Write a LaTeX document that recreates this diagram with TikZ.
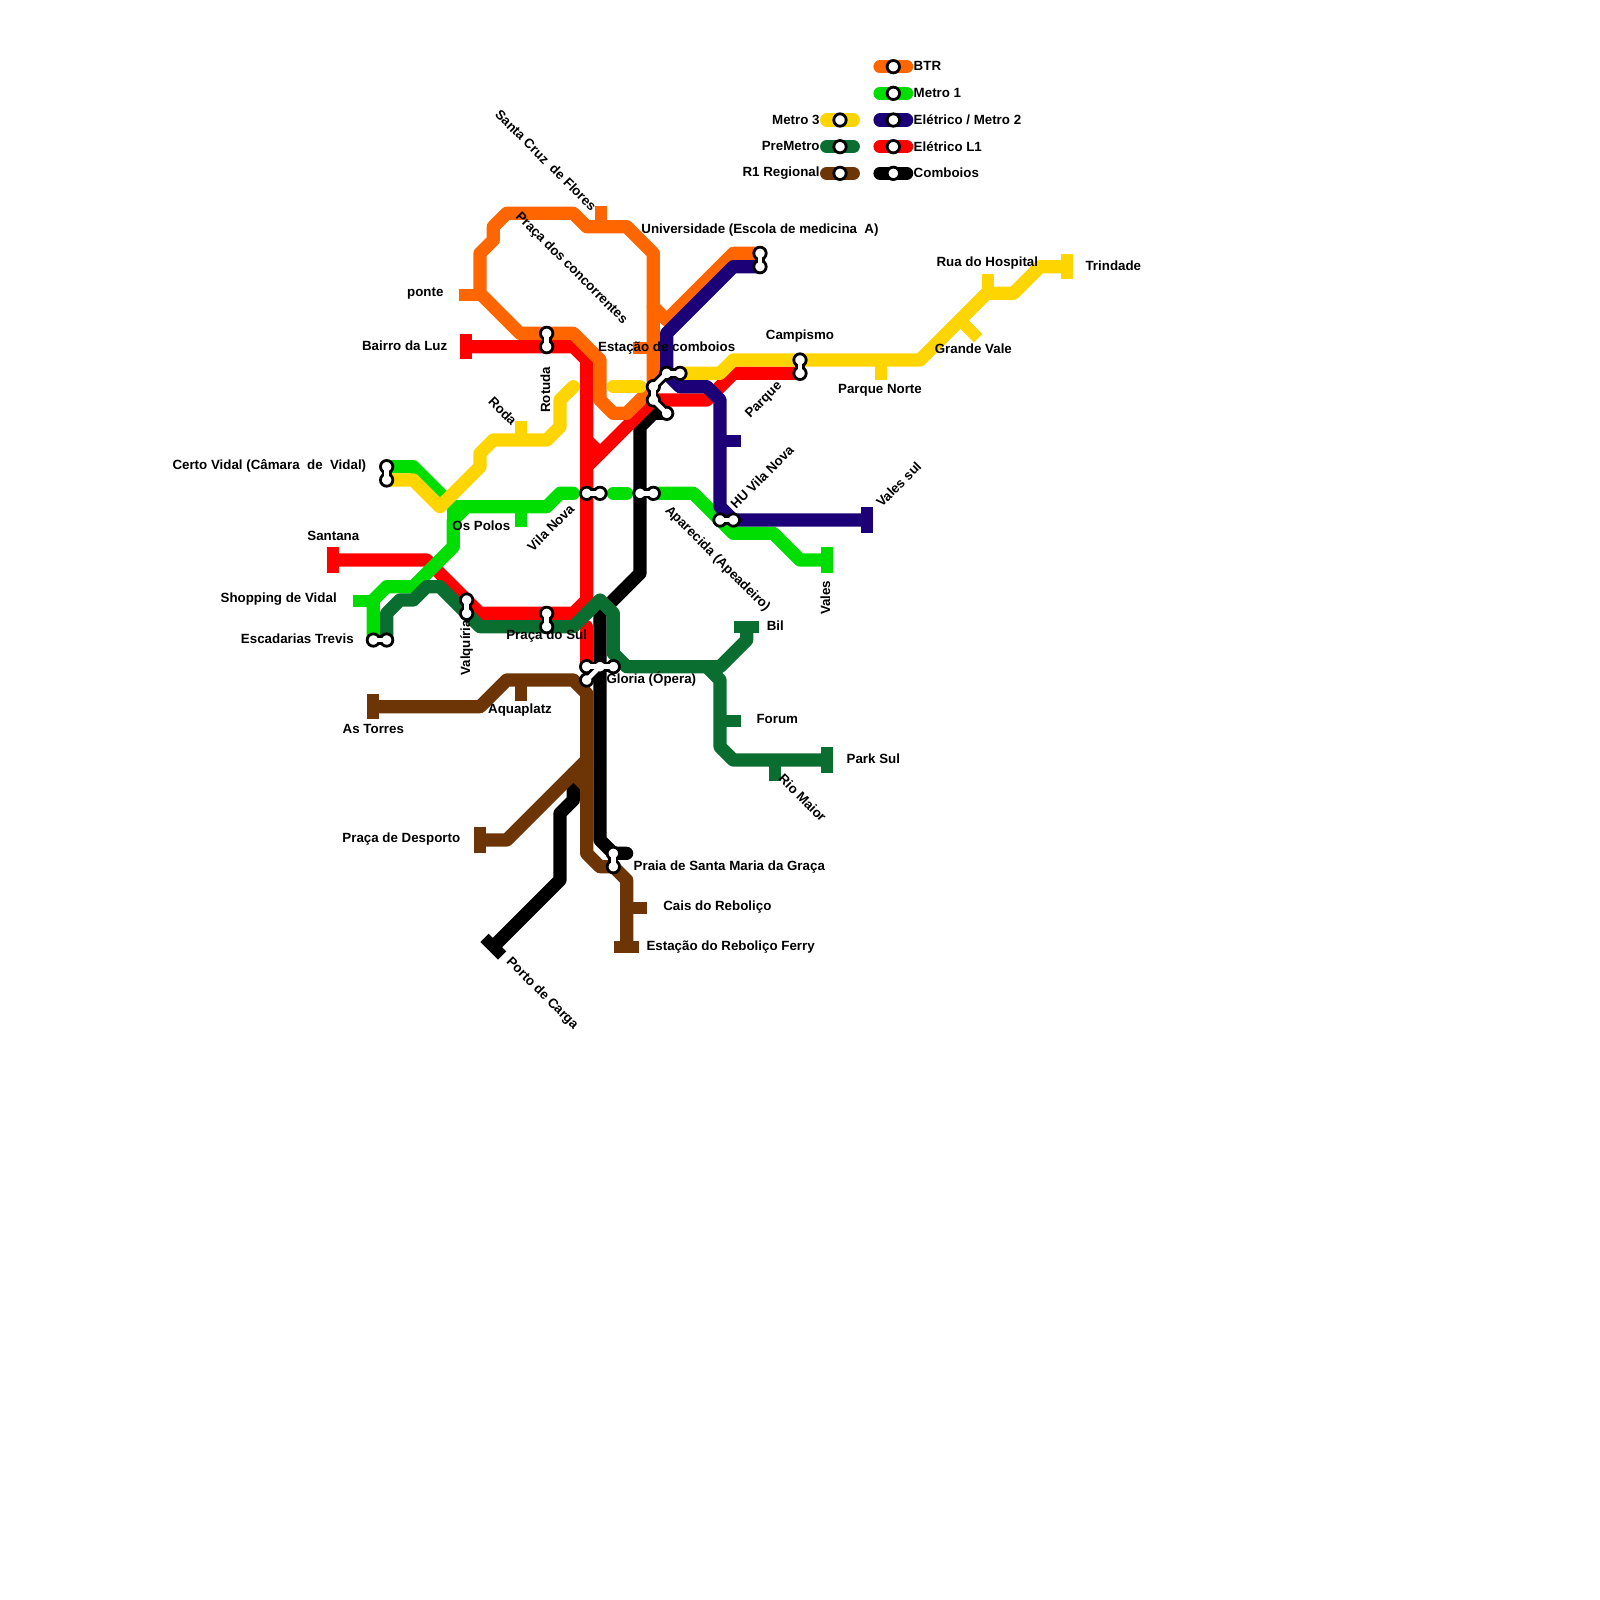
\documentclass[tikz,border=0pt]{standalone}
\usepackage{xcolor}
\usepackage{fontspec}
\setmainfont{Liberation Sans}
\usepackage{tikz}
\definecolor{btr}{HTML}{FF6600}
\definecolor{metroA}{HTML}{00DD00}
\definecolor{metroB}{HTML}{1B0078}
\definecolor{metroC}{HTML}{FFD500}
\definecolor{eleA}{HTML}{FF0000}
\definecolor{pre}{HTML}{0B6E31}
\definecolor{regional}{HTML}{6D3505}
\definecolor{comboio}{HTML}{000000}

\begin{document}
\begin{tikzpicture}[x=6.6667pt, y=-6.6667pt,
  font=\fontsize{6.667}{8}\selectfont\bfseries,
  rail/.style={line width=6.6pt, line join=round, line cap=round},
  spur/.style={line width=5.9pt, line cap=rect},
  stop/.style={circle, draw=black, fill=white, line width=1.4pt, minimum size=6.2pt, inner sep=0pt},
  linkout/.style={draw=black, line width=5pt, shorten <=2.6pt, shorten >=2.6pt},
  linkin/.style={draw=white, line width=2.2pt},
  lbl/.style={inner sep=0pt, yshift=-0.5pt}]
\useasboundingbox (0,0) rectangle (120,120);
% spurs and end bars, under the lines
\foreach \c/\xa/\ya/\xb/\yb in {btr/34.9/22.1/36/22.1, btr/45.1/15.9/45.1/17, btr/47.9/26.1/49/26.1,
    metroC/39.1/32/39.1/33, metroC/74.1/21/74.1/22, metroC/72/24/73.05/25.05, metroC/66.1/27/66.1/28.05, metroC/80.05/19.5/80.05/20.5,
    metroA/39.1/38/39.1/39.05, metroA/26.9/45.1/28/45.1, metroA/62.05/41.5/62.05/42.5,
    metroB/54/33.1/55.1/33.1, metroB/65.05/38.5/65.05/39.5,
    eleA/34.95/25.5/34.95/26.5, eleA/25/41.5/25/42.5,
    pre/54/54.1/55.1/54.1, pre/58.1/57/58.1/58.1, pre/55.5/47/56.5/47, pre/62.05/56.5/62.05/57.5,
    regional/39.1/51/39.1/52.1, regional/47/68.1/48.1/68.1, regional/46.5/71/47.5/71, regional/28/52.5/28/53.5, regional/36/62.5/36/63.5,
    comboio/36.65/70.65/37.35/71.35}{
  \draw[spur,\c] (\xa,\ya) -- (\xb,\yb);
}
% Comboios
\draw[rail,comboio] (50,31) -- (49,31) -- (48,32) -- (48,43) -- (45,46) -- (45,63) -- (46,64) -- (47,64);
\draw[rail,comboio] (37.1,70.9) -- (42,66) -- (42,61) -- (43,60) -- (43,58.5);
% R1 Regional
\draw[rail,regional] (28.1,53) -- (36,53) -- (38,51) -- (43,51) -- (44,52) -- (44,64) -- (45,65) -- (46,65) -- (47,66) -- (47,70.9);
\draw[rail,regional] (36.1,63) -- (38,63) -- (44,57);
\draw[rail,regional] (43,58) -- (44,59);
% Electrico L1
\draw[rail,eleA] (35.1,26) -- (43,26) -- (44,27) -- (44,45) -- (43,46) -- (36,46) -- (32,42) -- (25.1,42);
\draw[rail,eleA] (44,35) -- (49,30) -- (53,30) -- (55,28) -- (60,28);
\draw[rail,eleA] (44,33) -- (45,34);
\draw[rail,eleA] (44,47) -- (44,50);
% BTR
\draw[rail,btr] (36,22) -- (39,25) -- (43,25) -- (45,27) -- (45,30) -- (46,31) -- (47,31) -- (49,29) -- (49,19) -- (47,17) -- (44,17) -- (43,16) -- (38,16) -- (37,17) -- (37,18) -- (36,19) -- cycle;
\draw[rail,btr] (49,23) -- (50,24) -- (55,19) -- (57,19);
% Metro 1
\draw[rail,metroA] (29,35) -- (31,35) -- (34,38) -- (35,38);
\draw[rail,metroA] (34,38) -- (34,39);
\draw[rail,metroA] (43,37) -- (42,37) -- (41,38) -- (35,38) -- (34,39) -- (34,41) -- (31,44) -- (29,44) -- (28,45) -- (28,48);
\draw[rail,metroA] (46,37) -- (47,37);
\draw[rail,metroA] (49,37) -- (52,37) -- (55,40) -- (58,40) -- (60,42) -- (61.9,42);
% Metro 3
\draw[rail,metroC] (43,29) -- (42,30) -- (42,32) -- (41,33) -- (37,33) -- (36,34) -- (36,35) -- (33,38) -- (31,36) -- (29,36);
\draw[rail,metroC] (46,29) -- (48,29);
\draw[rail,metroC] (51,28) -- (54,28) -- (55,27) -- (69,27) -- (74,22) -- (76,22) -- (78,20) -- (79.9,20);
% PreMetro
\draw[rail,pre] (29,48) -- (29,46) -- (30,45) -- (31,45) -- (32,44) -- (33,44) -- (36,47) -- (43,47) -- (45,45) -- (46,46) -- (46,49) -- (47,50) -- (54,50) -- (56,48) -- (56,47.1);
\draw[rail,pre] (53,50) -- (54,51) -- (54,56) -- (55,57) -- (61.9,57);
% Electrico / Metro 2
\draw[rail,metroB] (57,20) -- (55,20) -- (50,25) -- (50,28) -- (51,29) -- (53,29) -- (54,30) -- (54,38) -- (55,39) -- (64.9,39);
% legend
\foreach \c/\y in {btr/5, metroA/7, metroB/9, eleA/11, comboio/13}{
  \draw[rail,\c] (66,\y) -- (68,\y);
  \node[stop] (key\c) at (67,\y) {};
}
\foreach \c/\y in {metroC/9, pre/11, regional/13}{
  \draw[rail,\c] (62,\y) -- (64,\y);
  \node[stop] (key\c) at (63,\y) {};
}
\foreach \n/\y/\t in {a/4.9/BTR, b/6.9/Metro 1, c/8.9/{Elétrico / Metro 2}, d/10.9/Elétrico L1, e/12.9/Comboios}{
  \node[lbl,anchor=west] (lbl\n) at (68.5,\y) {\t};
}
\foreach \n/\y/\t in {f/8.9/Metro 3, g/10.9/PreMetro, h/12.9/R1 Regional}{
  \node[lbl,anchor=east] (lbl\n) at (61.5,\y) {\t};
}
% stops
\foreach \n/\x/\y in {rotA/41/25, rotB/41/26, uniA/57/19, uniB/57/20, camA/60/27, camB/60/28, cerA/29/35, cerB/29/36,
    vilA/44/37, vilB/45/37, apaA/48/37, apaB/49/37, huA/54/39, huB/55/39, valA/35/45, valB/35/46,
    sulA/41/46, sulB/41/47, escA/28/48, escB/29/48, gloA/44/50, gloB/44/51, gloC/45/50, gloD/46/50,
    estA/51/28, estB/50/28, estC/49/29, estD/49/30, estE/50/31, praA/46/64, praB/46/65}{
  \node[stop] (\n) at (\x,\y) {};
}
% interchange links
\foreach \a/\b in {rotA/rotB, uniA/uniB, camA/camB, cerA/cerB, vilA/vilB, apaA/apaB, huA/huB, valA/valB, sulA/sulB, escA/escB,
    gloA/gloC, gloB/gloC, gloC/gloD, estA/estB, estB/estC, estC/estD, estD/estE, praA/praB}{
  \draw[linkout] (\a.center) -- (\b.center);
}
\foreach \a/\b in {rotA/rotB, uniA/uniB, camA/camB, cerA/cerB, vilA/vilB, apaA/apaB, huA/huB, valA/valB, sulA/sulB, escA/escB,
    gloA/gloC, gloB/gloC, gloC/gloD, estA/estB, estB/estC, estC/estD, estD/estE, praA/praB}{
  \draw[linkin] (\a.center) -- (\b.center);
}
% station names, level
\foreach \n/\x/\y/\t in {a/31.9/21.95/ponte, b/30.35/25.85/Bairro da Luz, c/20.2/34.9/Certo Vidal (Câmara\ \ de\ \ Vidal), d/25/40.15/Santana,
    e/36.1/39.35/Os Polos, f/20.9/44.85/Shopping de Vidal, g/22.3/47.85/Escadarias Trevis, h/41/47.6/Praça do Sul,
    i/48.85/50.85/Gloria (Ópera), j/39/53.15/Aquaplatz, k/28/54.6/As Torres, l/30.1/62.85/Praça de Desporto,
    m/54.7/64.95/Praia de Santa Maria da Graça, n/53.8/67.95/Cais do Reboliço, o/54.8/70.95/Estação do Reboliço Ferry,
    p/65.5/56.85/Park Sul, q/58.3/53.85/Forum, r/58.15/46.85/Bil, s/66/29.2/Parque Norte, t/73/26.05/Grande Vale,
    u/60/25.1/Campismo, v/74.05/19.65/Rua do Hospital, w/83.5/19.85/Trindade, x/50/26.05/Estação de comboios,
    y/57/17.15/Universidade (Escola de medicina\ \ A)}{
  \node[lbl] (name\n) at (\x,\y) {\t};
}
% station names, turned
\foreach \n/\x/\y/\r/\t in {a/40.9/29.15/90/Rotuda, b/37.7/30.75/-45/Roda, c/41.3/39.5/45/Vila Nova, d/35/48.5/90/Valquíria,
    e/40.65/74.45/-45/Porto de Carga, f/60.2/59.75/-45/Rio Maior, g/61.9/44.75/90/Vales, h/53.8/41.85/-45/Aparecida (Apeadeiro),
    i/57.15/35.7/45/HU Vila Nova, j/67.4/36.25/45/Vales sul, k/57.3/29.95/45/Parque, l/42.85/20.05/-45/Praça dos concorrentes,
    m/40.95/11.95/-45/Santa Cruz\ \ de Flores}{
  \node[lbl,rotate=\r] (turn\n) at (\x,\y) {\t};
}
\end{tikzpicture}
\end{document}
